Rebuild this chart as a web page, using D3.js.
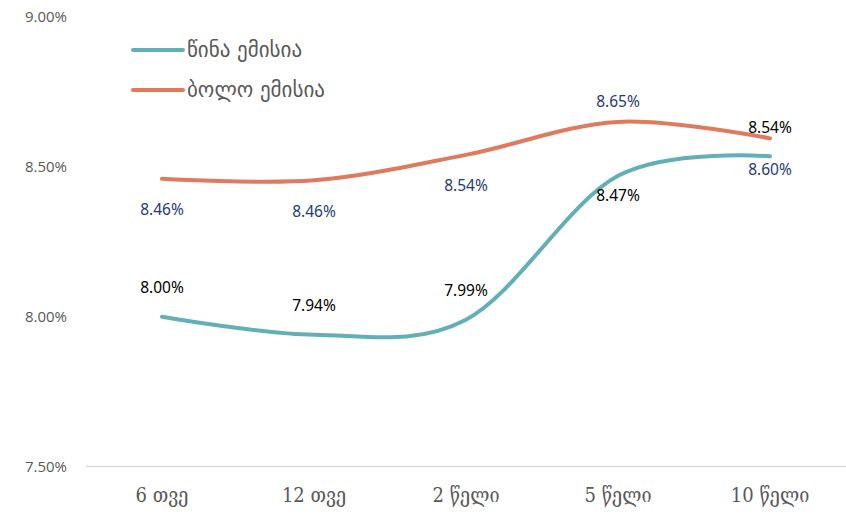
<!DOCTYPE html>
<html lang="ka">
  <head>
    <meta charset="UTF-8" />
    <title>ემისია</title>
    <script src="https://d3js.org/d3.v7.min.js"></script>
    <style>
      body {
        margin: 0;
        background: #ffffff;
      }
      .tick-y {
        font-family: "Open Sans", "Noto Sans", sans-serif;
        font-size: 15px;
        fill: #595959;
      }
      .tick-x {
        font-family: "DejaVu Serif Condensed", "DejaVu Serif", serif;
        font-size: 20px;
        fill: #595959;
      }
      .legend {
        font-family: "DejaVu Sans", sans-serif;
        font-size: 21px;
        fill: #595959;
      }
      .dlabel {
        font-family: "Noto Sans", "Open Sans", sans-serif;
        font-size: 15.5px;
      }
    </style>
  </head>
  <body>
    <svg id="chart" width="846" height="515"></svg>
    <script>
      // categories and values
      var categories = ["6 თვე", "12 თვე", "2 წელი", "5 წელი", "10 წელი"];
      var prevIssue = [8.0, 7.94, 7.99, 8.47, 8.535];
      var lastIssue = [8.46, 8.455, 8.54, 8.65, 8.595];
      var prevLabels = ["8.00%", "7.94%", "7.99%", "8.47%", "8.54%"];
      var lastLabels = ["8.46%", "8.46%", "8.54%", "8.65%", "8.60%"];
      var prevLabelPos = ["above", "above", "above", "below", "above"];
      var lastLabelPos = ["below", "below", "below", "above", "below"];
      var yTicks = [7.5, 8.0, 8.5, 9.0];
      var seriesNames = ["წინა ემისია", "ბოლო ემისია"];

      var svg = d3.select("#chart");

      var x = d3
        .scaleBand()
        .domain(categories)
        .range([86, 846]);

      var y = d3.scaleLinear().domain([7.5, 9.0]).range([466.5, 17]);

      var teal = "#62b0b5";
      var orange = "#e07a5f";

      // baseline gridline
      svg
        .append("line")
        .attr("x1", 86)
        .attr("x2", 846)
        .attr("y1", y(7.5))
        .attr("y2", y(7.5))
        .attr("stroke", "#d9d9d9")
        .attr("stroke-width", 1.3);

      // y tick labels
      svg
        .selectAll(".tick-y")
        .data(yTicks)
        .enter()
        .append("text")
        .attr("class", "tick-y")
        .attr("x", 67)
        .attr("y", function (d) {
          return y(d);
        })
        .attr("dy", "0.35em")
        .attr("text-anchor", "end")
        .text(function (d) {
          return d.toFixed(2) + "%";
        });

      // x tick labels
      svg
        .selectAll(".tick-x")
        .data(categories)
        .enter()
        .append("text")
        .attr("class", "tick-x")
        .attr("x", function (d) {
          return x(d) + x.bandwidth() / 2;
        })
        .attr("y", 502)
        .attr("text-anchor", "middle")
        .text(function (d) {
          return d;
        });

      var line = d3
        .line()
        .x(function (d, i) {
          return x(categories[i]) + x.bandwidth() / 2;
        })
        .y(function (d) {
          return y(d);
        })
        .curve(d3.curveCardinal.tension(0));

      function drawSeries(values, color) {
        svg
          .append("path")
          .datum(values)
          .attr("d", line)
          .attr("fill", "none")
          .attr("stroke", color)
          .attr("stroke-width", 4)
          .attr("stroke-linecap", "round");
      }
      drawSeries(prevIssue, teal);
      drawSeries(lastIssue, orange);

      function drawLabels(values, labels, pos, color, up, down) {
        svg
          .selectAll(null)
          .data(values)
          .enter()
          .append("text")
          .attr("class", "dlabel")
          .attr("fill", color)
          .attr("text-anchor", "middle")
          .attr("x", function (d, i) {
            return x(categories[i]) + x.bandwidth() / 2;
          })
          .attr("y", function (d, i) {
            return y(d) + (pos[i] == "above" ? up : down);
          })
          .attr("dy", "0.35em")
          .text(function (d, i) {
            return labels[i];
          });
      }
      drawLabels(prevIssue, prevLabels, prevLabelPos, "#000000", -29, 20);
      drawLabels(lastIssue, lastLabels, lastLabelPos, "#1f3a7a", -20, 31);

      // legend
      var legend = svg
        .selectAll(".leg")
        .data(seriesNames)
        .enter()
        .append("g")
        .attr("transform", function (d, i) {
          return "translate(131," + (50 + i * 40) + ")";
        });
      legend
        .append("line")
        .attr("x1", 2)
        .attr("x2", 52)
        .attr("stroke", function (d, i) {
          return i == 0 ? teal : orange;
        })
        .attr("stroke-width", 4)
        .attr("stroke-linecap", "round");
      legend
        .append("text")
        .attr("class", "legend")
        .attr("x", 56)
        .attr("dy", "0.35em")
        .text(function (d) {
          return d;
        });
    </script>
  </body>
</html>
